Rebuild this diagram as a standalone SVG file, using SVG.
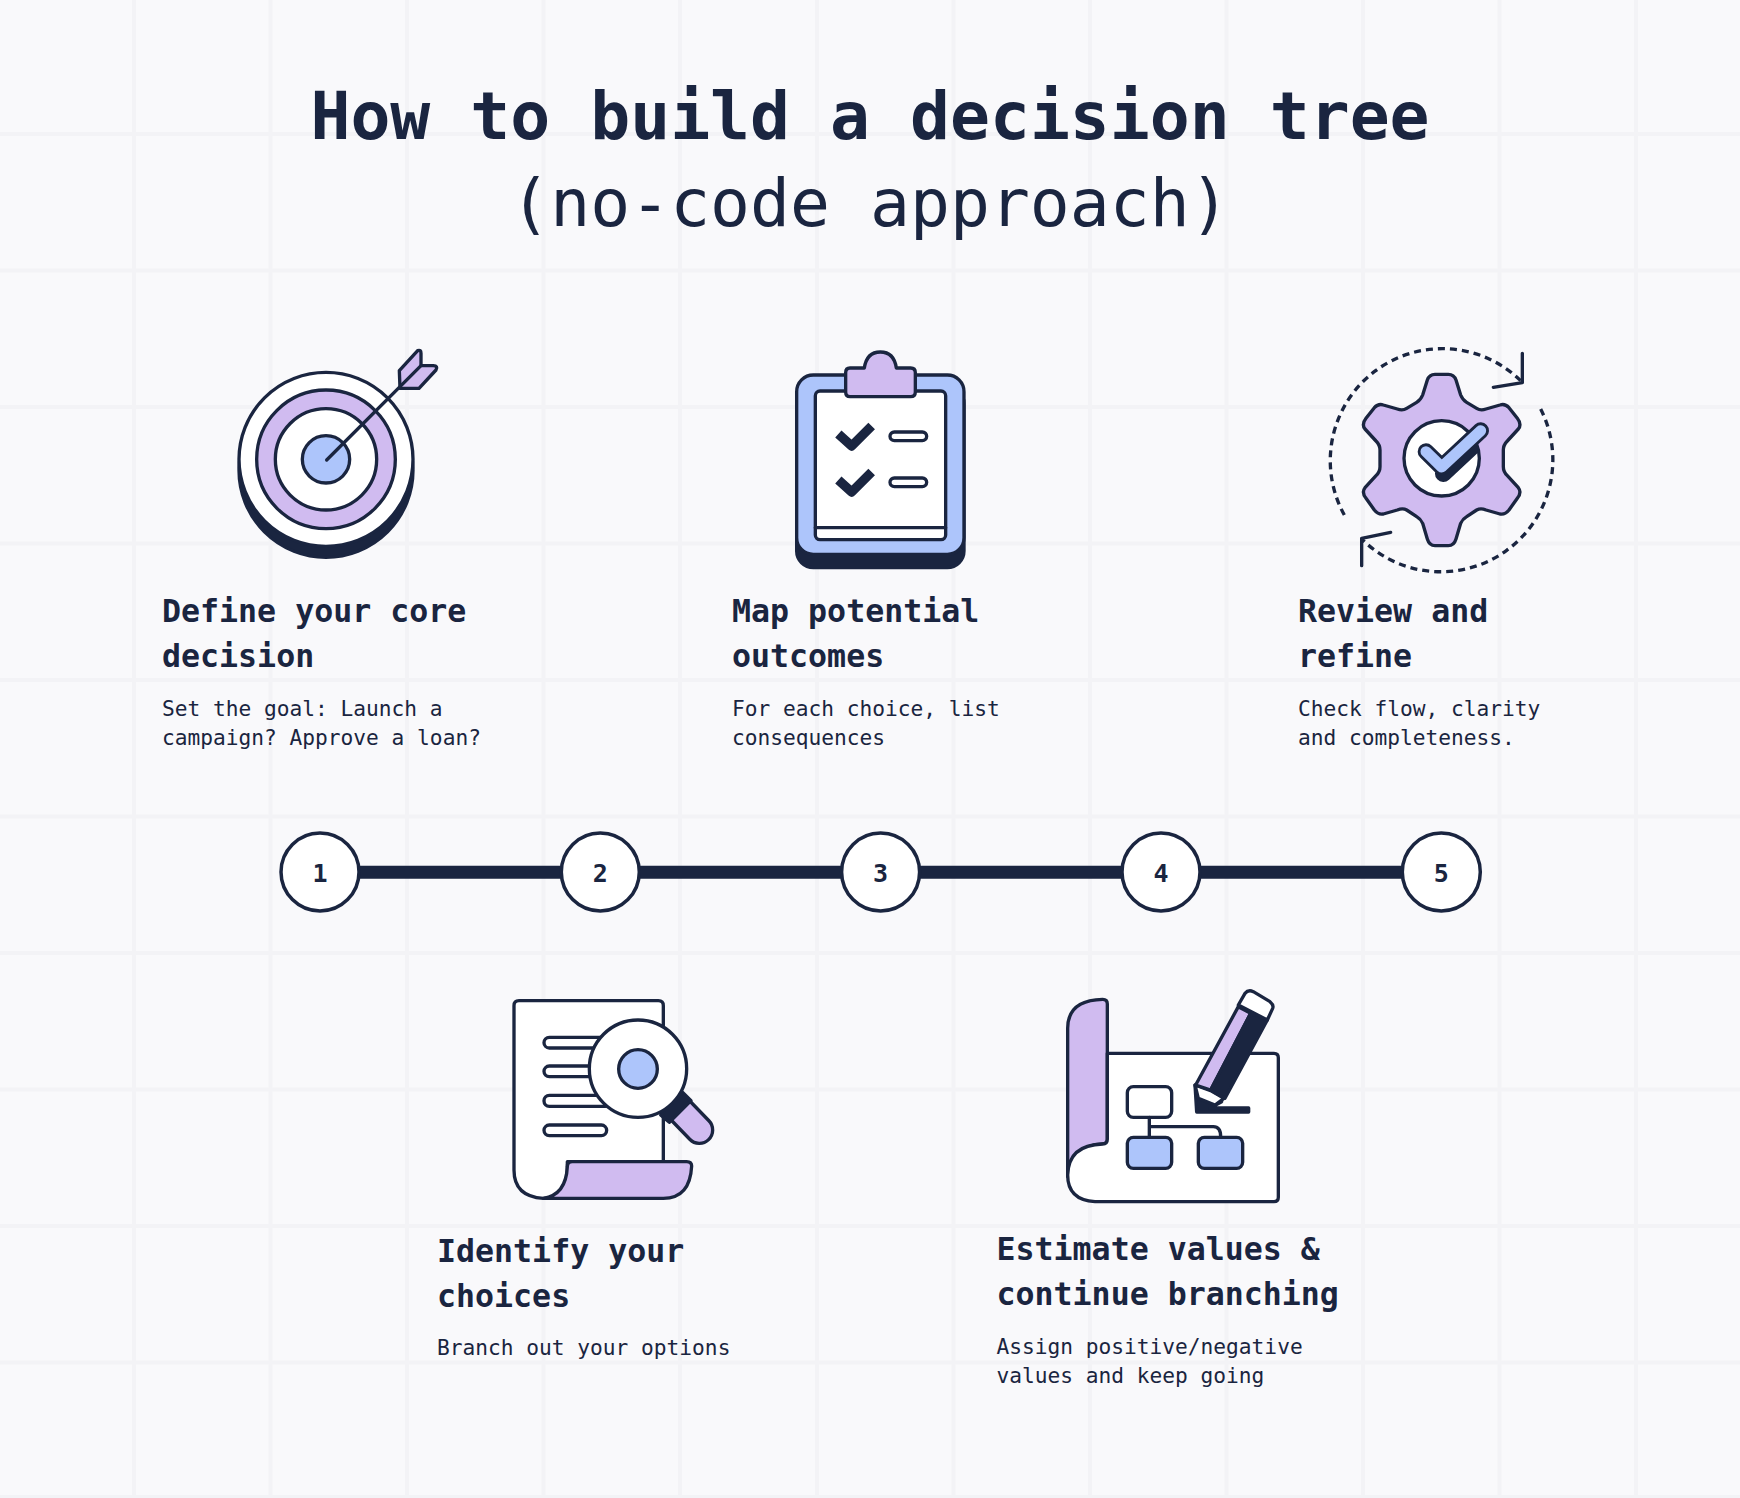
<svg xmlns="http://www.w3.org/2000/svg" width="1740" height="1498" viewBox="0 0 1740 1498">
<style>
text{font-family:"DejaVu Sans Mono","Liberation Mono",monospace;fill:#1a2540}
.t1{font-size:66.4px;font-weight:700;text-anchor:middle}
.t2{font-size:66.4px;font-weight:400;text-anchor:middle}
.h{font-size:31.6px;font-weight:700}
.d{font-size:21.2px}
.n{font-size:25px;font-weight:700;text-anchor:middle}
.grid{stroke:#f3f3f6;stroke-width:4;fill:none}
.i{transform:scale(.33333)}
.w,.l,.b,.k,.o{stroke:#1a2540;stroke-width:10;stroke-linejoin:round;stroke-linecap:round}
.w{fill:#fff}.l{fill:#d0bbf0}.b{fill:#adc5fb}.k{fill:#1a2540}.o{fill:none}
.dash{stroke-dasharray:21 15;stroke-linecap:butt}
.circ{fill:#fff;stroke:#1a2540;stroke-width:3.500}
.edge{stroke:#1a2540;stroke-width:13;fill:none}
</style>
<defs><clipPath id="gearClip"><circle cx="395" cy="370" r="111"/></clipPath></defs>
<rect width="1740" height="1498" fill="#f9f9fb"/>
<path class="grid" d="M134 0V1498M270.500 0V1498M407 0V1498M543.500 0V1498M680 0V1498M817 0V1498M953.500 0V1498M1090 0V1498M1226.500 0V1498M1363 0V1498M1499.500 0V1498M1636 0V1498M0 134H1740M0 270.500H1740M0 407H1740M0 543.500H1740M0 680H1740M0 816.500H1740M0 953H1740M0 1089.500H1740M0 1226H1740M0 1362.500H1740M0 1497H1740"/>
<g id="title">
<text class="t1" x="870" y="138.500">How to build a decision tree</text>
<text class="t2" x="870" y="226">(no-code approach)</text>
</g>
<g id="connectors">
<path class="edge" d="M360 872.200H561M640 872.200H841M920 872.200H1122M1200 872.200H1402"/>
</g>
<g id="n1"><circle class="circ" cx="320" cy="872" r="39"/><text class="n" x="320" y="882">1</text></g>
<g id="n2"><circle class="circ" cx="600.300" cy="872" r="39"/><text class="n" x="600.300" y="882">2</text></g>
<g id="n3"><circle class="circ" cx="880.600" cy="872" r="39"/><text class="n" x="880.600" y="882">3</text></g>
<g id="n4"><circle class="circ" cx="1161" cy="872" r="39"/><text class="n" x="1161" y="882">4</text></g>
<g id="n5"><circle class="circ" cx="1441.300" cy="872" r="39"/><text class="n" x="1441.300" y="882">5</text></g>
<g id="step1">
<g transform="translate(200,330)"><g class="i">
<circle class="k" cx="378" cy="421" r="261"/>
<circle class="w" cx="378" cy="388" r="261"/>
<circle class="l" cx="378" cy="388" r="208"/>
<circle class="w" cx="378" cy="388" r="152"/>
<circle class="b" cx="378" cy="388" r="71"/>
<path class="l" d="M598 122L653 62Q663 58 663 70L663 107L700 107Q715 108 708 120L657 175L600 175Z"/>
<path class="o" d="M380 390L663 107"/>
</g></g>
<text class="h" x="162" y="622">Define your core</text>
<text class="h" x="162" y="667">decision</text>
<text class="d" x="162" y="716">Set the goal: Launch a</text>
<text class="d" x="162" y="745">campaign? Approve a loan?</text>
</g>
<g id="step3">
<g transform="translate(770,340)"><g class="i">
<rect class="k" x="80" y="140" width="502" height="543" rx="50"/>
<rect class="b" x="80" y="105" width="502" height="538" rx="50"/>
<rect class="w" x="136" y="153" width="391" height="446" rx="14"/>
<path class="o" d="M136 563H527" />
<path class="l" d="M240 84L283 84Q290 36 331 36Q372 36 379 84L422 84Q436 84 436 98L436 156Q436 170 422 170L240 170Q227 170 227 156L227 98Q227 84 240 84Z"/>
<path d="M205 282L245 318L305 258" fill="none" stroke="#1a2540" stroke-width="28" stroke-linejoin="round"/>
<path d="M205 420L245 456L305 396" fill="none" stroke="#1a2540" stroke-width="28" stroke-linejoin="round"/>
<rect class="w" x="360" y="276" width="110" height="26" rx="13"/>
<rect class="w" x="360" y="414" width="110" height="26" rx="13"/>
</g></g>
<text class="h" x="732" y="622">Map potential</text>
<text class="h" x="732" y="667">outcomes</text>
<text class="d" x="732" y="716">For each choice, list</text>
<text class="d" x="732" y="745">consequences</text>
</g>
<g id="step5">
<g transform="translate(1310,335)"><g class="i">
<path class="o dash" d="M103 540A336 336 0 0 1 635 140"/>
<path class="o dash" d="M692 222A336 336 0 0 1 155 612"/>
<path class="o" d="M637 55V143L550 157"/>
<path class="o" d="M242 592L155 610V692"/>
<path class="l" d="M352 135Q358 118 375 118L415 118Q432 118 438 135L452 180Q458 195 470 202L500 220Q512 228 528 222L570 210Q585 205 597 218L622 250Q636 268 625 282L592 318Q580 330 580 345L580 395Q580 410 592 422L625 458Q636 472 622 490L597 525Q585 540 570 537L528 525Q512 518 500 525L470 545Q458 552 452 565L438 612Q432 632 415 632L375 632Q358 632 352 612L338 565Q332 552 320 545L290 525Q278 518 262 525L220 537Q205 540 193 525L168 490Q154 472 165 458L198 422Q210 410 210 395L210 345Q210 330 198 318L165 282Q154 268 168 250L193 218Q205 205 220 210L262 222Q278 228 290 220L320 202Q332 195 338 180Z"/>
<circle class="w" cx="395" cy="370" r="113"/>
<path clip-path="url(#gearClip)" d="M400 416L520 304" fill="none" stroke="#1a2540" stroke-width="50" stroke-linecap="round"/>
<path d="M348 350L395 396L512 287" fill="none" stroke="#1a2540" stroke-width="50" stroke-linecap="round" stroke-linejoin="round"/>
<path d="M348 350L395 396L512 287" fill="none" stroke="#adc5fb" stroke-width="33" stroke-linecap="round" stroke-linejoin="round"/>
</g></g>
<text class="h" x="1298" y="622">Review and</text>
<text class="h" x="1298" y="667">refine</text>
<text class="d" x="1298" y="716">Check flow, clarity</text>
<text class="d" x="1298" y="745">and completeness.</text>
</g>
<g id="step2">
<g transform="translate(490,980)"><g class="i">
<path class="w" d="M72 77Q72 62 87 62L505 62Q520 62 520 77L520 545L232 545L232 570Q228 655 160 655Q72 650 72 570Z"/>
<path class="l" d="M232 560Q232 545 247 545L590 545Q605 545 605 558Q600 655 520 655L160 655Q228 645 232 560Z"/>
<rect class="w" x="162" y="172" width="200" height="32" rx="16"/>
<rect class="w" x="162" y="258" width="200" height="32" rx="16"/>
<rect class="w" x="162" y="346" width="200" height="33" rx="16"/>
<rect class="w" x="162" y="435" width="188" height="32" rx="16"/>
<path d="M570 390L628 450" stroke="#1a2540" stroke-width="90" stroke-linecap="round" fill="none"/>
<path d="M570 390L628 450" stroke="#d0bbf0" stroke-width="70" stroke-linecap="round" fill="none"/>
<path class="k" d="M512 405L578 337L603 362L538 427Z"/>
<circle class="w" cx="444" cy="266" r="146"/>
<circle class="b" cx="444" cy="267" r="58"/>
</g></g>
<text class="h" x="437" y="1262">Identify your</text>
<text class="h" x="437" y="1307">choices</text>
<text class="d" x="437" y="1355">Branch out your options</text>
</g>
<g id="step4">
<g transform="translate(1050,980)"><g class="i">
<path class="l" d="M53 590L53 145Q53 60 158 58Q172 58 172 72L172 478Q172 492 158 492Q70 495 53 590Z"/>
<path class="w" d="M172 220L672 220Q685 220 685 233L685 652Q685 665 672 665L135 665Q53 660 53 585Q55 495 158 492Q172 492 172 478Z"/>
<rect class="w" x="232" y="320" width="133" height="92" rx="18"/>
<rect class="b" x="232" y="472" width="133" height="93" rx="18"/>
<rect class="b" x="445" y="472" width="133" height="93" rx="18"/>
<path class="o" d="M298 412V472M298 440H490Q512 440 512 470"/>
<path class="k" d="M435 315L440 396L596 396L596 384L480 384L515 365L445 350Z"/>
<path class="w" d="M435 315L482 332L522 355L495 375L445 355Z"/>
<path class="l" d="M565 80L602 100L482 330L437 315Z"/>
<path class="k" d="M602 100L652 120L525 355L482 330Z"/>
<path class="w" d="M565 75L585 40Q595 28 610 35L660 65Q672 75 668 85L652 120Z"/>
</g></g>
<text class="h" x="996.500" y="1260">Estimate values &amp;</text>
<text class="h" x="996.500" y="1305">continue branching</text>
<text class="d" x="996.500" y="1354">Assign positive/negative</text>
<text class="d" x="996.500" y="1383">values and keep going</text>
</g>
</svg>
